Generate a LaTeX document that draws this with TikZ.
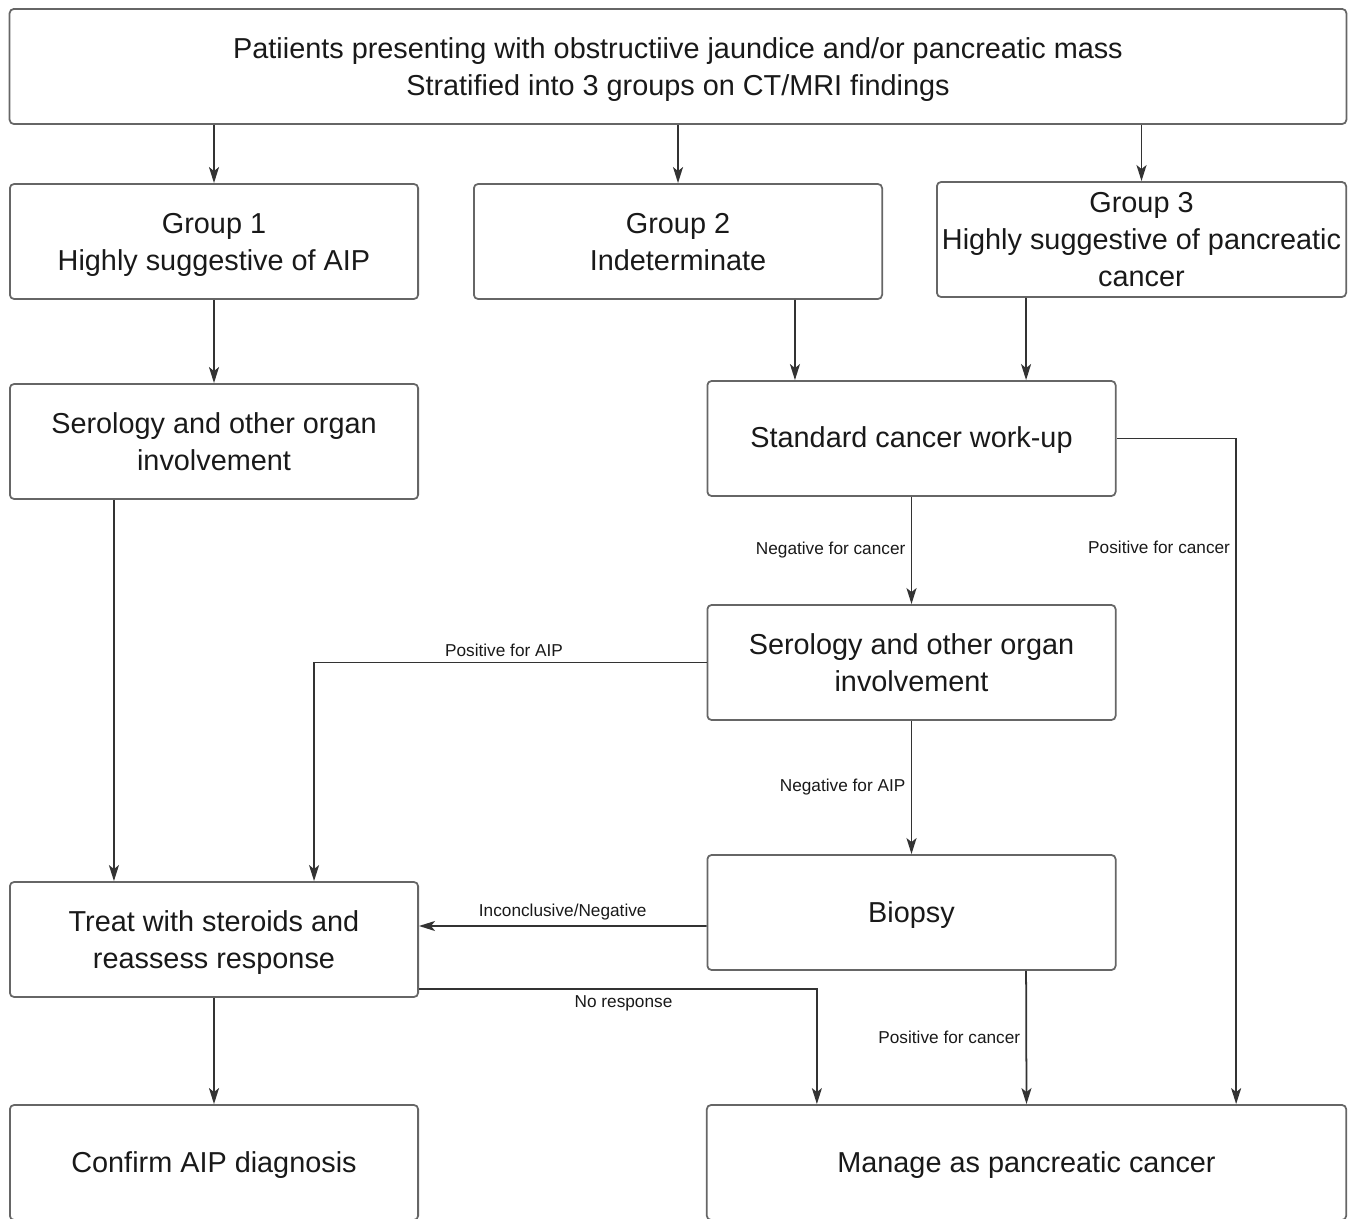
\documentclass[tikz,border=0pt]{standalone}
\usepackage{fontspec}
\setmainfont{Liberation Sans}
\usetikzlibrary{arrows.meta}

\begin{document}
\begin{tikzpicture}[x=0.01cm, y=-0.01cm,
		box/.style={draw=black!60, line width=0.5pt, rounded corners=1.2pt, inner sep=0pt,
			minimum width=4.08cm, minimum height=1.15cm, align=center, text=black!90,
			font=\fontsize{8.2}{10.5}\selectfont,
			execute at begin node={\rule{0pt}{7.2pt}}, execute at end node={\rule[-1.8pt]{0pt}{0pt}}},
		multi/.style={text height=17.2pt, text depth=0.8pt},
		arr/.style={draw=black!80, line width=0.5pt, -{Stealth[length=0.16cm, width=0.1cm, inset=0.04cm]}},
		lab/.style={font=\fontsize{4.9}{6}\selectfont, text=black!90, inner sep=1.5pt}]
			\useasboundingbox (0,0) rectangle (1358,1219);
			\clip (0,0) rectangle (1358,1219);
			% boxes
			\node[box, multi, minimum width=13.36cm] (top) at (678,66.5) {Patiients presenting with obstructiive jaundice and/or pancreatic mass\\Stratified into 3 groups on CT/MRI findings};
			\node[box, multi] (g1) at (214,241.5) {Group 1\\Highly suggestive of AIP};
			\node[box, multi] (g2) at (678,241.5) {Group 2\\Indeterminate};
			\node[box, multi, text height=27.7pt, minimum width=4.09cm] (g3) at (1141.5,239.5) {Group 3\\Highly suggestive of pancreatic\\cancer};
			\node[box, multi] (sero1) at (214,441.5) {Serology and other organ\\involvement};
			\node[box] (scw) at (911.5,438.5) {Standard cancer work-up};
			\node[box, multi] (sero2) at (911.5,662.5) {Serology and other organ\\involvement};
			\node[box, multi] (treat) at (214,939.5) {Treat with steroids and\\reassess response};
			\node[box] (biopsy) at (911.5,912.5) {Biopsy};
			\node[box] (confirm) at (214,1162.5) {Confirm AIP diagnosis};
			\node[box, minimum width=6.39cm] (manage) at (1026.5,1162.5) {Manage as pancreatic cancer};
			% arrows from the top
			\draw[arr] (top.south -| g1.north) -- (g1.north);
			\draw[arr] (top.south -| g2.north) -- (g2.north);
			\draw[arr] (top.south -| g3.north) -- (g3.north);
			% group 1 branch
			\draw[arr] (g1) -- (sero1);
			\draw[arr] ([xshift=-1cm]sero1.south) -- ([xshift=-1cm]treat.north);
			\draw[arr] (treat) -- (confirm);
			% group 2 and 3 branch
			\draw[arr] ([xshift=1.17cm]g2.south) -- ([xshift=-1.165cm]scw.north);
			\draw[arr] ([xshift=-1.155cm]g3.south) -- ([xshift=1.145cm]scw.north);
			\draw[arr] (scw) -- node[lab, left] {Negative for cancer} (sero2);
			\draw[arr] (scw.east) -| node[lab, left, pos=0.582] {Positive for cancer} ([xshift=2.095cm]manage.north);
			\draw[arr] (sero2.west) -| node[lab, above, pos=0.258] {Positive for AIP} ([xshift=1cm]treat.north);
			\draw[arr] (sero2) -- node[lab, left] {Negative for AIP} (biopsy);
			\draw[arr] ([yshift=-0.135cm]biopsy.west) -- node[lab, above] {Inconclusive/Negative} ([yshift=0.135cm]treat.east);
			\draw[arr] ([xshift=1.145cm]biopsy.south) -- node[lab, left] {Positive for cancer} (manage.north);
			\draw[arr] ([yshift=-0.495cm]treat.east) -| node[lab, below, pos=0.257] {No response} ([xshift=-2.095cm]manage.north);
		\end{tikzpicture}
\end{document}
